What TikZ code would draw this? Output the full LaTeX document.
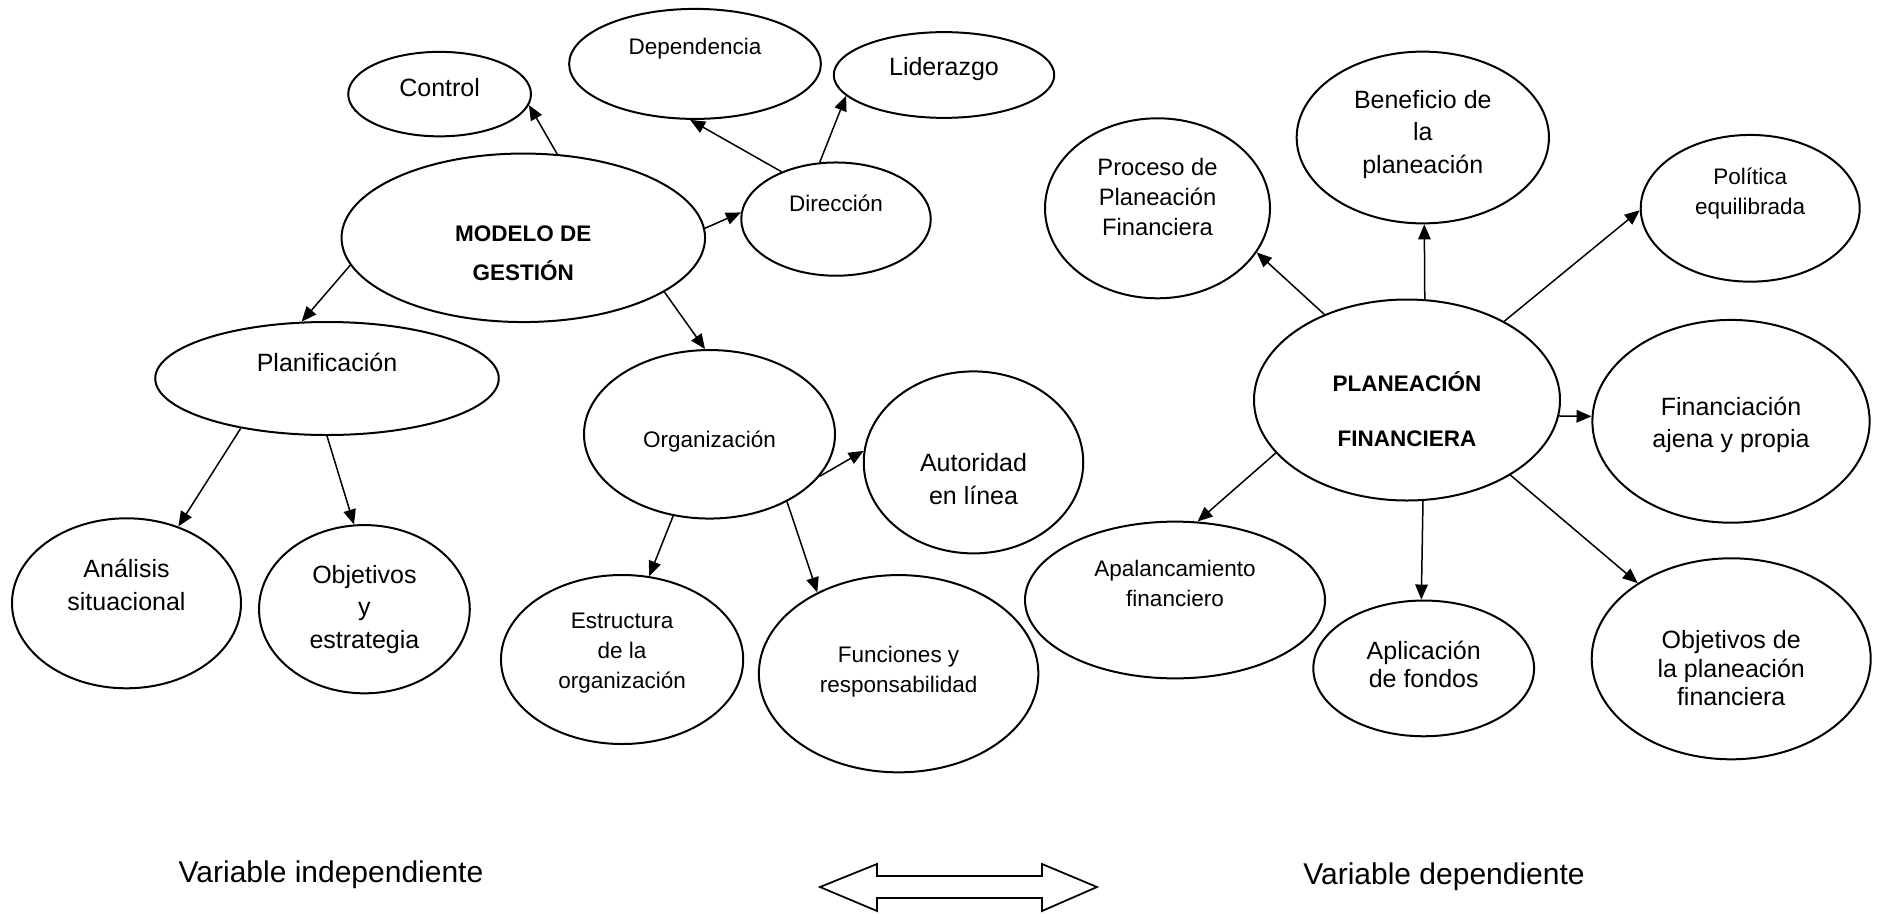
\documentclass[tikz,border=0pt]{standalone}
\usepackage{fontspec}
\setmainfont{Liberation Sans}
\usetikzlibrary{shapes.geometric,arrows.meta}

\begin{document}
\begin{tikzpicture}[
    x=0.4pt, y=-0.4pt,
    bubble/.style={
        draw,
        ellipse,
        line width=0.8pt,
        inner sep=0pt
    },
    big/.style={
        font=\fontsize{10pt}{13pt}\selectfont,
        align=center
    },
    small/.style={
        font=\fontsize{9pt}{12pt}\selectfont,
        align=center
    },
    heading/.style={
        font=\fontsize{9pt}{15.7pt}\selectfont\bfseries,
        align=center
    },
    link/.style={
        -{Triangle[length=6pt,width=5pt]},
        line width=0.6pt
    }
]

\useasboundingbox (0,0) rectangle (1879,913);

% Modelo de gestion (left side)
\node[bubble, minimum width=145.4pt, minimum height=67.4pt,
      label={[heading, name=modelo-t, yshift=-6.3pt]center:MODELO DE\\GESTIÓN}] (modelo) at (523.3,237.8) {};
\node[bubble, minimum width=73.1pt, minimum height=33.8pt,
      label={[big, name=control-t, yshift=2.6pt]center:Control}] (control) at (439.6,94.1) {};
\node[bubble, minimum width=100.7pt, minimum height=44pt,
      label={[small, name=depend-t, yshift=6pt]center:Dependencia}] (depend) at (695,63.9) {};
\node[bubble, minimum width=88.2pt, minimum height=34.3pt,
      label={[big, name=lider-t, yshift=2.2pt]center:Liderazgo}] (lider) at (944,75) {};
\node[bubble, minimum width=75.8pt, minimum height=45.3pt,
      label={[small, name=direc-t, yshift=6.2pt]center:Dirección}] (direc) at (836,219.1) {};
\node[bubble, minimum width=137.4pt, minimum height=45.2pt,
      label={[big, name=planif-t, yshift=6.4pt]center:Planificación}] (planif) at (327,378.5) {};
\node[bubble, minimum width=100.4pt, minimum height=67.4pt,
      label={[small, name=organ-t, yshift=-2.7pt]center:Organización}] (organ) at (709.5,434.3) {};
\node[bubble, minimum width=87.8pt, minimum height=72.8pt,
      label={[big, name=autor-t, yshift=-6.6pt]center:Autoridad\\en línea}] (autor) at (973.5,462.4) {};
\node[bubble, minimum width=91.6pt, minimum height=68pt,
      label={[big, name=analisis-t, yshift=7.3pt]center:Análisis\\situacional}] (analisis) at (126.5,603.3) {};
\node[bubble, minimum width=84.3pt, minimum height=67.3pt,
      label={[big, name=objest-t]center:Objetivos\\y\\estrategia}] (objest) at (364.4,609.2) {};
\node[bubble, minimum width=96.9pt, minimum height=67.6pt,
      label={[small, name=estruct-t, yshift=2.5pt]center:Estructura\\de la\\organización}] (estruct) at (622.1,659.5) {};
\node[bubble, minimum width=111.8pt, minimum height=78.9pt,
      label={[small, name=funciones-t, yshift=0.8pt]center:Funciones y\\responsabilidad}] (funciones) at (898.6,673.7) {};

% Planeacion financiera (right side)
\node[bubble, minimum width=122.4pt, minimum height=80.4pt,
      label={[heading, name=planea-t, yshift=-3.6pt]center:PLANEACIÓN\\[6.3pt]FINANCIERA}] (planea) at (1407,400) {};
\node[bubble, minimum width=90pt, minimum height=72pt,
      label={[small, font=\fontsize{9.5pt}{12pt}\selectfont, name=proceso-t, yshift=4.6pt]center:Proceso de\\Planeación\\Financiera}] (proceso) at (1157.5,208.3) {};
\node[bubble, minimum width=100.9pt, minimum height=68.7pt,
      label={[big, name=benef-t, yshift=1.2pt]center:Beneficio de\\la\\planeación}] (benef) at (1422.8,137.5) {};
\node[bubble, minimum width=87.6pt, minimum height=58.7pt,
      label={[small, name=politica-t, yshift=5.8pt]center:Política\\equilibrada}] (politica) at (1750.2,208.3) {};
\node[bubble, minimum width=110.9pt, minimum height=81.1pt,
      label={[big, name=financ-t, yshift=-1.5pt]center:Financiación\\ajena y propia}] (financ) at (1731,421.3) {};
\node[bubble, minimum width=120pt, minimum height=62.7pt,
      label={[small, name=apalanc-t, yshift=6.7pt]center:Apalancamiento\\financiero}] (apalanc) at (1175,600) {};
\node[bubble, minimum width=88.3pt, minimum height=54.3pt,
      label={[big, font=\fontsize{10pt}{11.3pt}\selectfont, name=aplic-t, yshift=1.6pt]center:Aplicación\\de fondos}] (aplic) at (1423.7,668.4) {};
\node[bubble, minimum width=111.6pt, minimum height=80.4pt,
      label={[big, font=\fontsize{10pt}{11.3pt}\selectfont, name=objplan-t, yshift=-3.8pt]center:Objetivos de\\la planeación\\financiera}] (objplan) at (1731.2,658.8) {};

% Arrows (left)
\draw[link] (modelo.68) -- (control.-7);
\draw[link] (modelo.189) -- (planif.114);
\draw[link] (modelo.3) -- (direc.176);
\draw[link] (modelo.-21) -- (organ.93);
\draw[link] (direc.139) -- (depend.-95);
\draw[link] (direc.106) -- (lider.192);
\draw[link] (planif.210) -- (analisis.56);
\draw[link] (planif.south) -- (objest.97);
\draw[link] (organ.-21) -- (autor.174);
\draw[link] (organ.246) -- (estruct.72);
\draw[link] (organ.-41) -- (funciones.135);

% Arrows (right)
\draw[link] (planea.134) -- (proceso.-24);
\draw[link] (planea.80) -- (benef.-89);
\draw[link] (planea.39) -- (politica.181);
\draw[link] (planea.-6) -- (financ.178);
\draw[link] (planea.202) -- (apalanc.74);
\draw[link] (planea.-81) -- (aplic.92);
\draw[link] (planea.-36) -- (objplan.141);

% Variables at the bottom
\node[font=\fontsize{12pt}{14pt}\selectfont] (indep) at (331,875) {Variable independiente};
\node[font=\fontsize{12pt}{14pt}\selectfont] (dep) at (1444,877) {Variable dependiente};
\draw[line width=0.7pt, line join=miter] (820,887) -- (877,864) -- (877,876) -- (1042,876) -- (1042,864)
    -- (1097,887) -- (1042,911) -- (1042,898) -- (877,898) -- (877,911) -- cycle;

\end{tikzpicture}
\end{document}
